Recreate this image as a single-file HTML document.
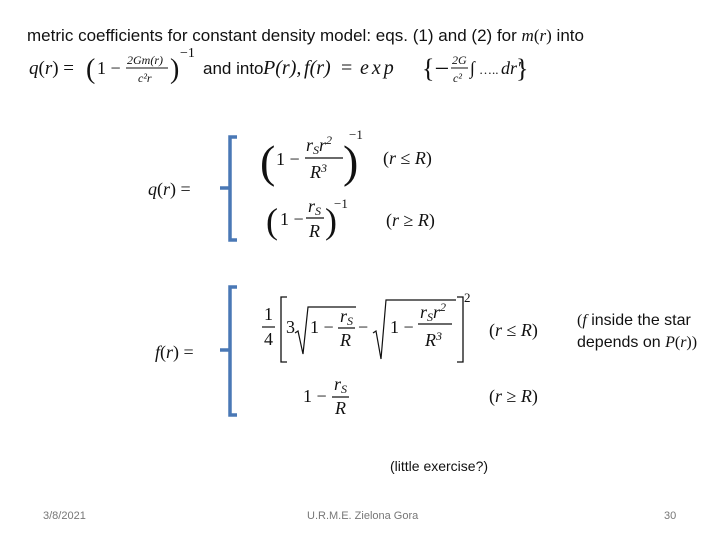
<!DOCTYPE html>
<html><head><meta charset="utf-8"><style>
html,body{margin:0;padding:0;background:#fff;}
svg{display:block;}
.s{font-family:"Liberation Sans",sans-serif;}
.m{font-family:"Liberation Serif",serif;font-style:italic;}
.n{font-family:"Liberation Serif",serif;}
</style></head><body>
<svg width="720" height="540" viewBox="0 0 720 540" xmlns="http://www.w3.org/2000/svg">
<rect width="720" height="540" fill="#fff"/>
<g fill="#111">
<text class="s" x="27" y="41" font-size="17" textLength="557">metric coefficients for constant density model: eqs. (1) and (2) for <tspan class="m">m</tspan><tspan class="n">(</tspan><tspan class="m">r</tspan><tspan class="n">)</tspan> into</text>
<text class="n" x="29" y="74" font-size="19"><tspan class="m">q</tspan>(<tspan class="m">r</tspan>) = </text>
<text class="n" x="86" y="78" font-size="28">(</text>
<text class="n" x="97" y="74" font-size="18">1 −</text>
<text class="m" x="127" y="64" font-size="12">2Gm(r)</text>
<line x1="126" y1="68" x2="168" y2="68" stroke="#111" stroke-width="1"/>
<text class="m" x="138" y="82" font-size="12">c²r</text>
<text class="n" x="170" y="78" font-size="28">)</text>
<text class="n" x="180" y="57" font-size="14">−1</text>
<text class="s" x="203" y="74" font-size="17">and into</text>
<text class="m" x="263" y="74" font-size="20">P<tspan class="n">(</tspan>r<tspan class="n">),</tspan></text>
<text class="m" x="304" y="74" font-size="20">f<tspan class="n">(</tspan>r<tspan class="n">)</tspan></text>
<text class="n" x="341" y="74" font-size="20">=</text>
<text class="m" x="360" y="74" font-size="20" letter-spacing="3">exp</text>
<text class="n" x="422" y="77" font-size="26">{−</text>
<text class="m" x="452" y="64" font-size="12">2G</text>
<line x1="451" y1="68" x2="468" y2="68" stroke="#111" stroke-width="1"/>
<text class="m" x="453" y="82" font-size="12">c²</text>
<text class="n" x="470" y="74" font-size="18">∫</text>
<text class="n" x="479" y="74" font-size="13">…..</text>
<text class="m" x="501" y="74" font-size="18">dr′</text>
<text class="n" x="516" y="77" font-size="26">}</text>
</g>
<g stroke="#4a78b5" stroke-width="3.5" fill="none">
<path d="M237 137 H230 V240 H237 M230 188 H220"/>
<path d="M237 287 H230 V415 H237 M230 350 H220"/>
</g>
<g fill="#111" font-size="18">
<text class="n" x="148" y="195"><tspan class="m">q</tspan>(<tspan class="m">r</tspan>) =</text>
<text class="n" x="260" y="177" font-size="46">(</text>
<text class="n" x="276" y="165">1 −</text>
<text class="m" x="306" y="151">r<tspan font-size="12" dy="3">S</tspan><tspan dy="-3">r</tspan><tspan class="n" font-size="12" dy="-7">2</tspan></text>
<line x1="305" y1="158" x2="343" y2="158" stroke="#111" stroke-width="1.2"/>
<text class="m" x="310" y="178">R<tspan class="n" font-size="12" dy="-6">3</tspan></text>
<text class="n" x="343" y="177" font-size="46">)</text>
<text class="n" x="349" y="139" font-size="13">−1</text>
<text class="n" x="383" y="164">(<tspan class="m">r</tspan> ≤ <tspan class="m">R</tspan>)</text>
<text class="n" x="266" y="233" font-size="36">(</text>
<text class="n" x="280" y="225">1 −</text>
<text class="m" x="308" y="212">r<tspan font-size="12" dy="3">S</tspan></text>
<line x1="306" y1="218" x2="324" y2="218" stroke="#111" stroke-width="1.2"/>
<text class="m" x="309" y="237">R</text>
<text class="n" x="325" y="233" font-size="36">)</text>
<text class="n" x="334" y="208" font-size="13">−1</text>
<text class="n" x="386" y="226">(<tspan class="m">r</tspan> ≥ <tspan class="m">R</tspan>)</text>
<text class="n" x="155" y="358"><tspan class="m">f</tspan>(<tspan class="m">r</tspan>) =</text>
<text class="n" x="264" y="320">1</text>
<line x1="262" y1="327" x2="275" y2="327" stroke="#111" stroke-width="1.2"/>
<text class="n" x="264" y="345">4</text>
<path d="M287 297 H281 V362 H287 M457 297 H463 V362 H457" stroke="#111" stroke-width="1.3" fill="none"/>
<text class="n" x="464" y="302" font-size="13">2</text>
<text class="n" x="286" y="333">3</text>
<path d="M295 333 l3 -2 l5 23 l5 -47 H356" stroke="#111" stroke-width="1.2" fill="none"/>
<text class="n" x="310" y="333">1 −</text>
<text class="m" x="340" y="322">r<tspan font-size="12" dy="3">S</tspan></text>
<line x1="338" y1="328" x2="355" y2="328" stroke="#111" stroke-width="1.2"/>
<text class="m" x="340" y="346">R</text>
<text class="n" x="358" y="333">−</text>
<path d="M373 333 l3 -2 l5 28 l5 -59 H456" stroke="#111" stroke-width="1.2" fill="none"/>
<text class="n" x="390" y="333">1 −</text>
<text class="m" x="420" y="318">r<tspan font-size="12" dy="3">S</tspan><tspan dy="-3">r</tspan><tspan class="n" font-size="12" dy="-7">2</tspan></text>
<line x1="418" y1="324" x2="452" y2="324" stroke="#111" stroke-width="1.2"/>
<text class="m" x="425" y="346">R<tspan class="n" font-size="12" dy="-6">3</tspan></text>
<text class="n" x="489" y="336">(<tspan class="m">r</tspan> ≤ <tspan class="m">R</tspan>)</text>
<text class="n" x="303" y="402">1 −</text>
<text class="m" x="334" y="390">r<tspan font-size="12" dy="3">S</tspan></text>
<line x1="332" y1="397" x2="349" y2="397" stroke="#111" stroke-width="1.2"/>
<text class="m" x="335" y="414">R</text>
<text class="n" x="489" y="402">(<tspan class="m">r</tspan> ≥ <tspan class="m">R</tspan>)</text>
</g>
<g fill="#111" font-size="16">
<text class="s" x="577" y="325"><tspan class="n">(</tspan><tspan class="m">f</tspan> inside the star</text>
<text class="s" x="577" y="347">depends on <tspan class="m">P</tspan><tspan class="n">(</tspan><tspan class="m">r</tspan><tspan class="n">))</tspan></text>
<text class="s" x="390" y="471" font-size="14">(little exercise?)</text>
</g>
<g fill="#777" font-size="11">
<text class="s" x="43" y="519">3/8/2021</text>
<text class="s" x="307" y="519">U.R.M.E. Zielona Gora</text>
<text class="s" x="664" y="519">30</text>
</g>
</svg>
</body></html>
